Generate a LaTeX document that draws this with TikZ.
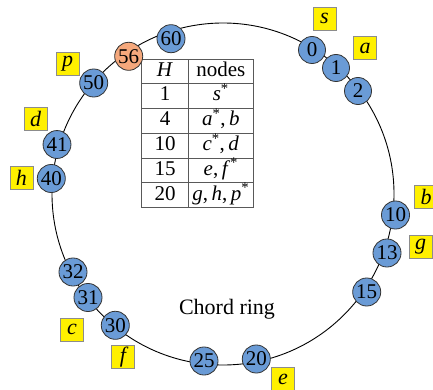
\documentclass[tikz,border=0pt]{standalone}
\usepackage{fontspec}
\setmainfont{Liberation Serif}
\usepackage{colortbl}
\usepackage{tikz}
\usetikzlibrary{positioning}

\definecolor{nodeblue}{RGB}{106,155,214}
\definecolor{hotorange}{RGB}{245,168,124}
\definecolor{tagyellow}{RGB}{255,240,0}

\begin{document}
\begin{tikzpicture}[x=1pt,y=1pt,
		ringnode/.style={circle,draw=black!80,line width=0.8pt,fill=nodeblue,
			minimum size=27pt,inner sep=1pt,font=\rmfamily\fontsize{21}{24}\selectfont},
		hotnode/.style={ringnode,fill=hotorange},
		tag/.style={draw=black!45,line width=0.8pt,fill=tagyellow,minimum size=23pt,
			inner sep=0pt,font=\rmfamily\fontsize{22}{24}\selectfont\itshape}]
		\useasboundingbox (0,0) rectangle (433,389);

		% the ring
		\draw[line width=0.9pt] (223,195) circle (171);

		% hop table
		\node[anchor=north west,inner sep=0pt] (tbl) at (141,330) {%
			\rmfamily\fontsize{21}{23}\selectfont
			\setlength\tabcolsep{3pt}\setlength\arrayrulewidth{0.8pt}%
			\arrayrulecolor{black!65}%
			\begin{tabular}{|wc{40pt}|wc{58pt}|}\hline
				\textit{H} & nodes \\ \hline
				1 & \textit{s}\textsuperscript{*} \\ \hline
				4 & \textit{a}\textsuperscript{*},\,\textit{b} \\ \hline
				10 & \textit{c}\textsuperscript{*},\,\textit{d} \\ \hline
				15 & \textit{e},\,\textit{f}\textsuperscript{*} \\ \hline
				20 & \textit{g},\,\textit{h},\,\textit{p}\textsuperscript{*} \\ \hline
			\end{tabular}};

		% peers on the ring
		\foreach \id/\x/\y in {0/312/339, 1/336/321, 2/358/298, 10/395.5/174,
				13/387/136, 15/366.7/97, 20/256.3/30, 25/204/28, 30/115.3/63.7,
				31/88/91.5, 32/73/117, 40/51.3/210.5, 41/57/244.5, 50/93.7/306,
				60/171/350.3}
			\node[ringnode] (n\id) at (\x,\y) {\id};
		\node[hotnode] (n56) at (128.7,332.7) {56};

		% key names
		\node[tag] (ts) at (324.5,370.5) {s};
		\node[tag] (ta) at (365,341) {a};
		\node[tag] (tb) at (426,192) {b};
		\node[tag] (tg) at (420.5,142) {g};
		\node[tag] (te) at (283,10) {e};
		\node[tag] (tf) at (123,32) {f};
		\node[tag] (tc) at (72,59.5) {c};
		\node[tag] (th) at (21.5,211.5) {h};
		\node[tag] (td) at (35.5,270) {d};
		\node[tag] (tp) at (67.5,325) {p};

		\node[font=\rmfamily\fontsize{22}{26}\selectfont] (title) at (227,80) {Chord ring};
	\end{tikzpicture}
\end{document}
